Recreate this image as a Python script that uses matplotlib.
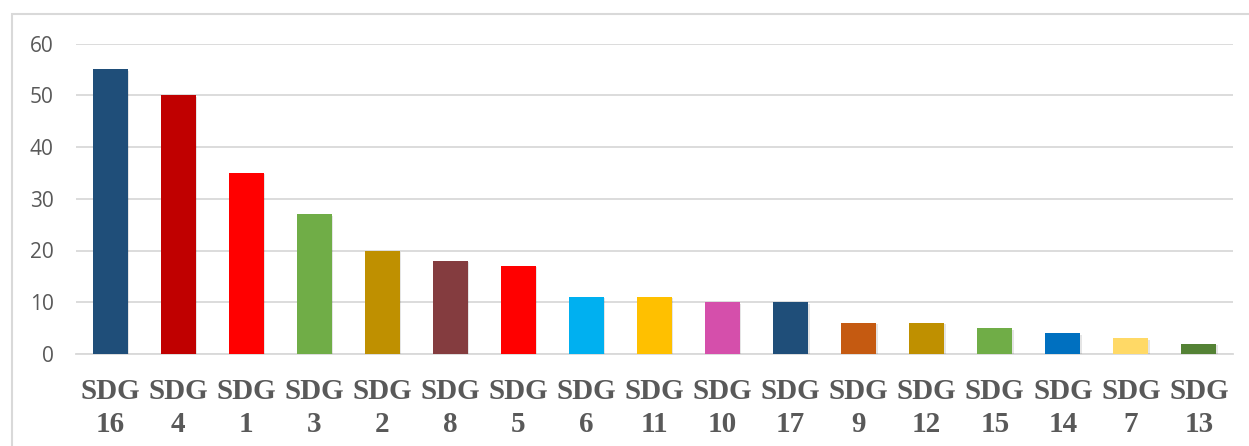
import matplotlib
matplotlib.use("Agg")
import matplotlib.pyplot as plt
import matplotlib.patheffects as pe
from matplotlib.patches import Rectangle

categories = ["SDG\n16", "SDG\n4", "SDG\n1", "SDG\n3", "SDG\n2", "SDG\n8", "SDG\n5",
              "SDG\n6", "SDG\n11", "SDG\n10", "SDG\n17", "SDG\n9", "SDG\n12",
              "SDG\n15", "SDG\n14", "SDG\n7", "SDG\n13"]
values = [55, 50, 35, 27, 20, 18, 17, 11, 11, 10, 10, 6, 6, 5, 4, 3, 2]
colors = ["#1F4E79", "#C00000", "#FF0000", "#70AD47", "#BF9000", "#843C3F", "#FF0000",
          "#00B0F0", "#FFC000", "#D54FAB", "#1F4E79", "#C55A11", "#BF9000",
          "#70AD47", "#0070C0", "#FFD966", "#548235"]
y_ticks = [0, 10, 20, 30, 40, 50, 60]

W, H = 1249, 446
fig = plt.figure(figsize=(W / 100, H / 100), dpi=100)

# outer chart frame (left and top edges visible)
frame = Rectangle((12 / W, -0.1), 1.2, (H - 14) / H + 0.1, transform=fig.transFigure,
                  fill=False, edgecolor="#D9D9D9", linewidth=1.5)
fig.patches.append(frame)

left, right = 76 / W, 1233 / W
bottom, top = 1 - 354 / H, 1 - 43.5 / H
ax = fig.add_axes([left, bottom, right - left, top - bottom])

x = list(range(len(categories)))
bars = ax.bar(x, values, width=0.515, color=colors, zorder=3)
for b in bars:
    b.set_path_effects([pe.SimplePatchShadow(offset=(1.0, -1.0), shadow_rgbFace="#000000",
                                             alpha=0.10), pe.Normal()])

ax.set_xlim(-0.5, len(categories) - 0.5)
ax.set_ylim(0, 60)
ax.set_yticks(y_ticks)
ax.yaxis.grid(True, color="#D9D9D9", linewidth=1.3, zorder=0)
ax.set_axisbelow(True)
for s in ["top", "right", "left"]:
    ax.spines[s].set_visible(False)
ax.spines["bottom"].set_color("#D9D9D9")
ax.spines["bottom"].set_linewidth(1.3)
ax.tick_params(axis="both", length=0)
ax.tick_params(axis="y", pad=16, labelsize=15, labelcolor="#595959")
ax.set_xticks(x)
ax.set_xticklabels(categories, family="Liberation Serif", fontweight="bold",
                   fontsize=21, color="#595959", linespacing=1.32)
ax.tick_params(axis="x", pad=17)
for lab in ax.get_yticklabels():
    lab.set_family("Open Sans")

fig.savefig("out.png", dpi=100)
